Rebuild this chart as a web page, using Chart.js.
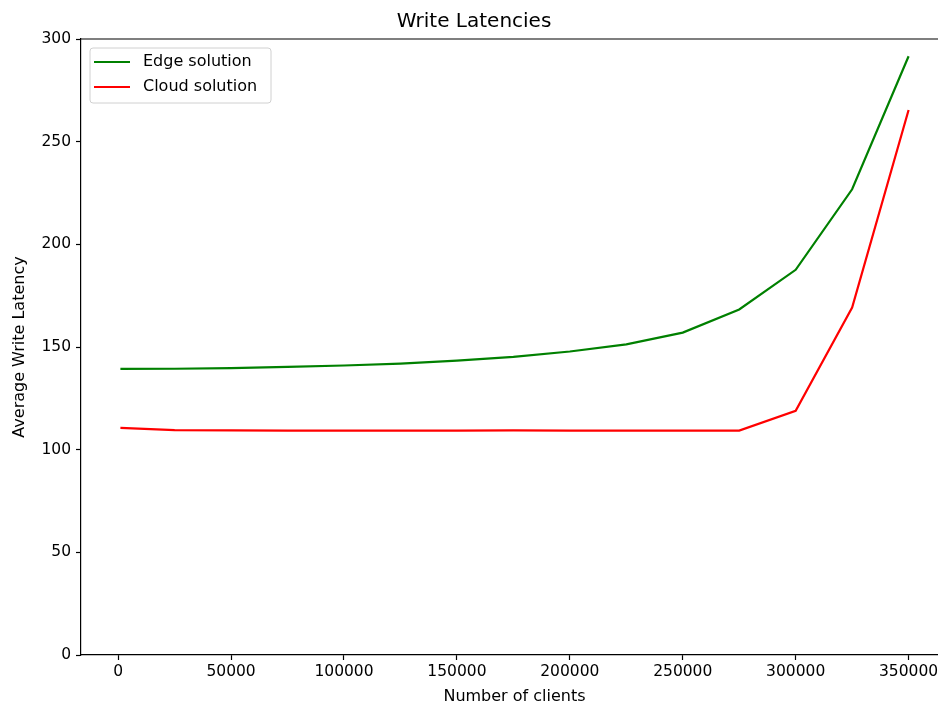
<!DOCTYPE html>
<html>
<head>
<meta charset="utf-8">
<script src="https://cdn.jsdelivr.net/npm/chart.js@4.4.1/dist/chart.umd.min.js"></script>
<style>
  html, body { margin: 0; padding: 0; overflow: hidden; background: #fff; }
  #wrap { width: 948px; height: 706px; }
</style>
</head>
<body>
<div id="wrap"><canvas id="latencyChart" width="948" height="706"></canvas></div>
<script>
const clients = [1000, 25000, 50000, 75000, 100000, 125000, 150000, 175000, 200000, 225000, 250000, 275000, 300000, 325000, 350000];
const edgeLatency = [139.3, 139.4, 139.7, 140.3, 141.0, 141.9, 143.4, 145.2, 147.8, 151.3, 157.0, 168.3, 187.6, 226.8, 291.6];
const cloudLatency = [110.6, 109.5, 109.4, 109.3, 109.3, 109.3, 109.3, 109.4, 109.3, 109.3, 109.3, 109.3, 118.9, 169.2, 265.4];
const xTicks = [0, 50000, 100000, 150000, 200000, 250000, 300000, 350000];
const yTicks = [0, 50, 100, 150, 200, 250, 300];

const FONT = "'DejaVu Sans', sans-serif";

function toPoints(xs, ys) {
  return xs.map((x, i) => ({ x: x, y: ys[i] }));
}

// matplotlib style frame (top spine) + legend box inside the plot
const frameAndLegend = {
  id: "frameAndLegend",
  afterDatasetsDraw(chart) {
    const ctx = chart.ctx;
    const a = chart.chartArea;
    ctx.save();
    ctx.strokeStyle = "#000";
    ctx.lineWidth = 1.2;
    ctx.beginPath();
    ctx.moveTo(a.left, Math.round(a.top));
    ctx.lineTo(a.right, Math.round(a.top));
    ctx.stroke();

    // legend
    const bx = a.left + 9, by = a.top + 9, bw = 181, bh = 55, r = 3;
    ctx.fillStyle = "rgba(255,255,255,0.8)";
    ctx.strokeStyle = "#d0d0d0";
    ctx.lineWidth = 1;
    ctx.beginPath();
    ctx.moveTo(bx + r, by);
    ctx.arcTo(bx + bw, by, bx + bw, by + bh, r);
    ctx.arcTo(bx + bw, by + bh, bx, by + bh, r);
    ctx.arcTo(bx, by + bh, bx, by, r);
    ctx.arcTo(bx, by, bx + bw, by, r);
    ctx.closePath();
    ctx.fill();
    ctx.stroke();

    ctx.font = "16px " + FONT;
    ctx.textBaseline = "middle";
    chart.data.datasets.forEach((ds, i) => {
      const y = by + 14 + i * 25;
      ctx.strokeStyle = ds.borderColor;
      ctx.lineWidth = 2.2;
      ctx.beginPath();
      ctx.moveTo(bx + 4, y);
      ctx.lineTo(bx + 40, y);
      ctx.stroke();
      ctx.fillStyle = "#000";
      ctx.fillText(ds.label, bx + 53, y);
    });
    ctx.restore();
  }
};

const ctx = document.getElementById("latencyChart").getContext("2d");
new Chart(ctx, {
  type: "line",
  data: {
    datasets: [
      {
        label: "Edge solution",
        data: toPoints(clients, edgeLatency),
        borderColor: "#008000",
        borderWidth: 2.2,
        pointRadius: 0,
        fill: false,
        tension: 0
      },
      {
        label: "Cloud solution",
        data: toPoints(clients, cloudLatency),
        borderColor: "#ff0000",
        borderWidth: 2.2,
        pointRadius: 0,
        fill: false,
        tension: 0
      }
    ]
  },
  options: {
    responsive: false,
    animation: false,
    layout: { padding: 0 },
    plugins: {
      legend: { display: false },
      tooltip: { enabled: false },
      title: {
        display: true,
        text: "Write Latencies",
        color: "#000",
        font: { family: FONT, size: 20, weight: "normal" },
        padding: { top: 10, bottom: 5 }
      }
    },
    scales: {
      x: {
        type: "linear",
        min: -16450,
        max: 367450,
        afterBuildTicks: (s) => { s.ticks = xTicks.map(v => ({ value: v })); },
        afterFit: (s) => { s.height = 51; },
        ticks: {
          color: "#000",
          font: { family: FONT, size: 15.5 },
          padding: 3,
          maxRotation: 0,
          autoSkip: false,
          callback: (v) => String(v)
        },
        grid: { drawOnChartArea: false, drawTicks: true, tickLength: 5, tickColor: "#000", tickWidth: 1.2 },
        border: { display: true, color: "#000", width: 1.2 },
        title: {
          display: true,
          text: "Number of clients",
          color: "#000",
          font: { family: FONT, size: 16 },
          padding: { top: 0, bottom: 0 }
        }
      },
      y: {
        min: 0,
        max: 300,
        afterBuildTicks: (s) => { s.ticks = yTicks.map(v => ({ value: v })); },
        afterFit: (s) => { s.width = 81; },
        ticks: {
          color: "#000",
          font: { family: FONT, size: 15.5 },
          padding: 5
        },
        grid: { drawOnChartArea: false, drawTicks: true, tickLength: 5, tickColor: "#000", tickWidth: 1.2 },
        border: { display: true, color: "#000", width: 1.2 },
        title: {
          display: true,
          text: "Average Write Latency",
          color: "#000",
          font: { family: FONT, size: 16 },
          padding: { top: 10, bottom: 0 }
        }
      }
    }
  },
  plugins: [frameAndLegend]
});
</script>
</body>
</html>
